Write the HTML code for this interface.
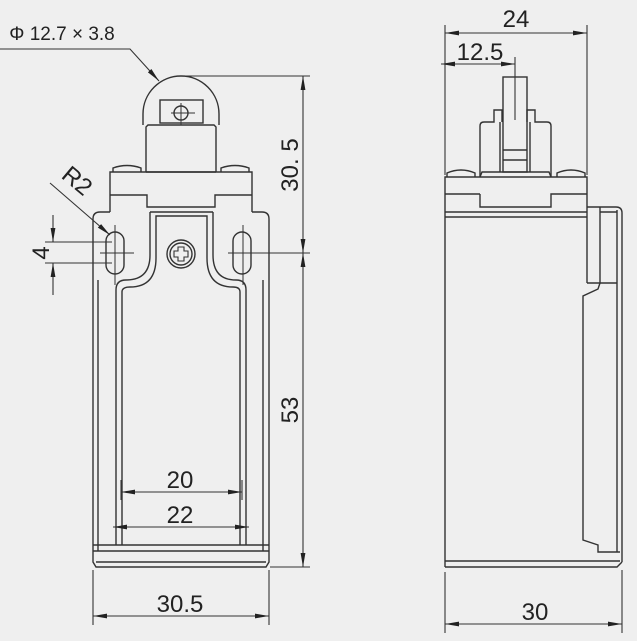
<!DOCTYPE html>
<html><head><style>
html,body{margin:0;padding:0;background:#efefef;}
svg{display:block;}
text{font-family:"Liberation Sans",sans-serif;fill:#222;}
</style></head><body>
<svg width="637" height="641" viewBox="0 0 637 641" xmlns="http://www.w3.org/2000/svg">
<defs>
<marker id="a" viewBox="0 0 14 6" refX="14" refY="3" markerWidth="14" markerHeight="6" orient="auto-start-reverse" markerUnits="userSpaceOnUse"><path d="M0,0.6 L14,3 L0,5.4z" fill="#222"/></marker>
</defs>
<rect width="637" height="641" fill="#efefef"/>
<g fill="none" stroke="#333" stroke-width="1.4">
<!-- LEFT VIEW -->
<path d="M143,125 L143,114 A38,38 0 0 1 219,114 L219,125"/>
<rect x="160" y="100" width="43" height="23"/>
<circle cx="181" cy="113" r="7"/>
<line x1="171" y1="113" x2="195" y2="113" stroke-width="1"/>
<line x1="181" y1="103" x2="181" y2="125" stroke-width="1"/>
<path d="M146,172 L146,127 L148,125 L214,125 L216,127 L216,172"/>
<line x1="146" y1="172" x2="216" y2="172"/>
<path d="M113,172 L113,168 Q127,163 141,168 L141,172"/>
<path d="M221,172 L221,168 Q235,163 249,168 L249,172"/>
<path d="M110,212 L110,172 L252,172 L252,212"/>
<path d="M110,195 L147,195 L147,207 L215,207 L215,195 L252,195"/>
<path d="M110,212 L100,212 Q93,212 93,219 L93,562 L96,567 L266,567 L269,562 L269,219 Q269,212 262,212 L252,212"/>
<line x1="98" y1="280" x2="98" y2="551"/>
<line x1="263" y1="280" x2="263" y2="551"/>
<line x1="93" y1="545" x2="269" y2="545"/>
<line x1="93" y1="551" x2="269" y2="551"/>
<line x1="96" y1="562" x2="266" y2="562"/>
<path d="M116,545 L116,290 Q116,280 126,280 Q150,280 150,255 L150,212"/>
<path d="M122,545 L122,292 Q122,287 130,287 Q156,287 156,258 L156,216 L207,216 L207,258 Q207,287 233,287 Q240,287 240,292 L240,545"/>
<path d="M246,545 L246,290 Q246,280 236,280 Q213,280 213,255 L213,212"/>
<line x1="150" y1="212" x2="213" y2="212"/>
<rect x="106" y="232" width="18" height="42" rx="9"/>
<rect x="233" y="232" width="18" height="42" rx="9"/>
<line x1="100" y1="253" x2="134" y2="253" stroke-width="1"/>
<line x1="115" y1="225" x2="115" y2="285" stroke-width="1"/>
<line x1="228" y1="253" x2="262" y2="253" stroke-width="1"/>
<line x1="243" y1="225" x2="243" y2="285" stroke-width="1"/>
<circle cx="181" cy="254" r="14"/>
<circle cx="181" cy="254" r="11"/>
<path d="M178,247 h6 v4 h4 v6 h-4 v4 h-6 v-4 h-4 v-6 h4z" stroke-width="1.1"/>
<g stroke-width="1.1">
<line x1="181" y1="76" x2="310" y2="76"/>
<line x1="262" y1="253" x2="310" y2="253"/>
<line x1="270" y1="567" x2="310" y2="567"/>
<line x1="303" y1="76" x2="303" y2="253" marker-start="url(#a)" marker-end="url(#a)"/>
<line x1="303" y1="253" x2="303" y2="567" marker-start="url(#a)" marker-end="url(#a)"/>
<line x1="93" y1="570" x2="93" y2="625"/>
<line x1="269" y1="570" x2="269" y2="625"/>
<line x1="93" y1="616" x2="269" y2="616" marker-start="url(#a)" marker-end="url(#a)"/>
<line x1="121" y1="480" x2="121" y2="500"/>
<line x1="242" y1="480" x2="242" y2="500"/>
<line x1="121" y1="492" x2="242" y2="492" marker-start="url(#a)" marker-end="url(#a)"/>
<line x1="113" y1="527" x2="249" y2="527" marker-start="url(#a)" marker-end="url(#a)"/>
<line x1="45" y1="242" x2="112" y2="242"/>
<line x1="45" y1="263" x2="112" y2="263"/>
<line x1="53" y1="215" x2="53" y2="242" marker-end="url(#a)"/>
<line x1="53" y1="295" x2="53" y2="263" marker-end="url(#a)"/>
<line x1="50" y1="183" x2="110" y2="235" marker-end="url(#a)"/>
<path d="M0,49 L130,49 L159,81" marker-end="url(#a)"/>
</g>
<!-- RIGHT VIEW -->
<path d="M445,567 L445,177 L587,177 L587,283"/>
<line x1="445" y1="194" x2="480" y2="194"/>
<path d="M480,194 L480,207 L551,207 L551,194 L587,194"/>
<line x1="445" y1="212" x2="587" y2="212"/>
<line x1="445" y1="217" x2="587" y2="217"/>
<path d="M447,177 L447,173 Q461,167 475,173 L475,177"/>
<path d="M557,177 L557,173 Q571,167 585,173 L585,177"/>
<path d="M480,177 L480,126 Q480,122 484,122 L494,122 L494,110 L502,110 L502,122"/>
<path d="M551,177 L551,126 Q551,122 547,122 L535,122 L535,110 L527,110 L527,122"/>
<path d="M480,177 L482,172 L549,172 L551,177"/>
<rect x="503" y="77" width="24" height="95"/>
<line x1="503" y1="150" x2="527" y2="150"/>
<line x1="503" y1="160" x2="527" y2="160"/>
<line x1="500" y1="122" x2="500" y2="172"/>
<line x1="530" y1="122" x2="530" y2="172"/>
<path d="M587,207 L616,207 Q622,207 622,213 L622,562"/>
<line x1="617" y1="210" x2="617" y2="552"/>
<line x1="600" y1="207" x2="600" y2="283"/>
<line x1="600" y1="212" x2="617" y2="212"/>
<line x1="587" y1="283" x2="617" y2="283"/>
<path d="M600,283 L598,289 L583,296 L583,540 L598,545 L598,552 L620,552"/>
<line x1="445" y1="561" x2="620" y2="561"/>
<path d="M445,567 L617,567 L622,562"/>
<g stroke-width="1.1">
<line x1="445" y1="25" x2="445" y2="175"/>
<line x1="587" y1="25" x2="587" y2="175"/>
<line x1="445" y1="33" x2="587" y2="33" marker-start="url(#a)" marker-end="url(#a)"/>
<line x1="515" y1="57" x2="515" y2="120"/>
<line x1="441" y1="64" x2="515" y2="64" marker-start="url(#a)" marker-end="url(#a)"/>
<line x1="445" y1="572" x2="445" y2="633"/>
<line x1="622" y1="570" x2="622" y2="633"/>
<line x1="445" y1="624" x2="622" y2="624" marker-start="url(#a)" marker-end="url(#a)"/>
</g>
</g>
<g font-size="24" text-anchor="middle">
<text x="62" y="40" font-size="19">Φ 12.7 × 3.8</text>
<text x="180" y="488">20</text>
<text x="180" y="523">22</text>
<text x="180" y="612">30.5</text>
<text x="516" y="27">24</text>
<text x="480" y="60">12.5</text>
<text x="535" y="620">30</text>
<text transform="translate(298,165) rotate(-90)">30. 5</text>
<text transform="translate(298,410) rotate(-90)">53</text>
<text transform="translate(49,253) rotate(-90)">4</text>
<text transform="translate(72,187) rotate(40)">R2</text>
</g>
</svg>
</body></html>
